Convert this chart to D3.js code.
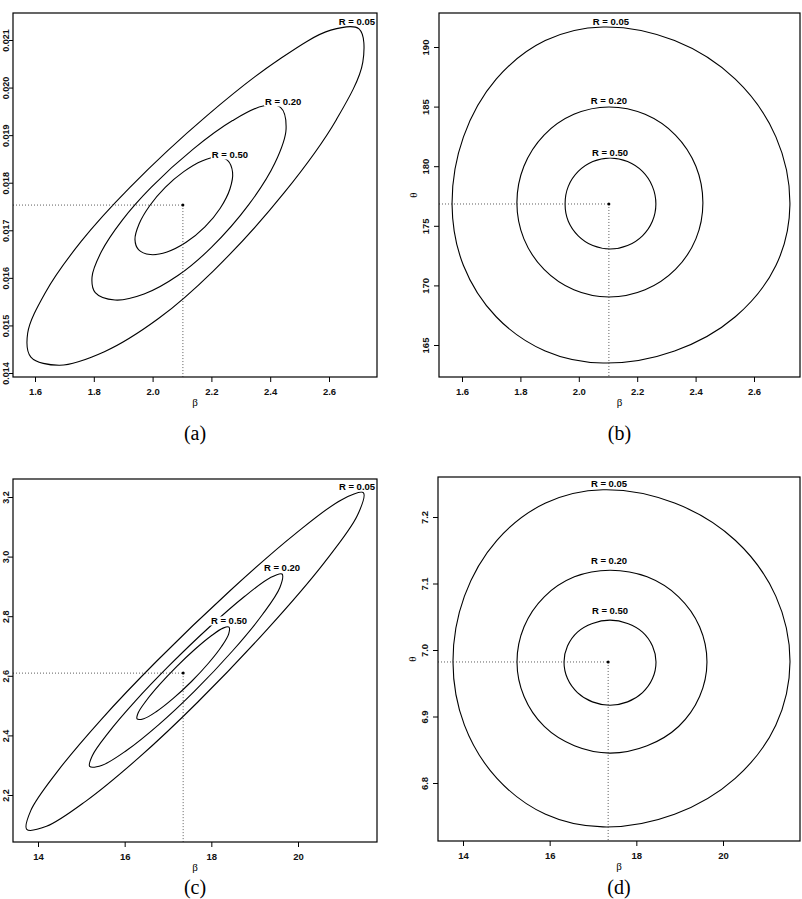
<!DOCTYPE html>
<html><head><meta charset="utf-8">
<script src="https://cdn.jsdelivr.net/npm/d3@7"></script>
<style>body{margin:0;background:#fff} svg{display:block}</style>
</head><body>
<svg id="chart" width="802" height="899"></svg>
<script>
// ---------------- DATA ----------------
const contourLevels = ["R = 0.05", "R = 0.20", "R = 0.50"];
const captions = ["(a)", "(b)", "(c)", "(d)"];
const xTicksAB = [1.6, 1.8, 2.0, 2.2, 2.4, 2.6];
const xTicksCD = [14, 16, 18, 20];
const yTicksA = [0.014, 0.015, 0.016, 0.017, 0.018, 0.019, 0.020, 0.021];
const yTicksB = [165, 170, 175, 180, 185, 190];
const yTicksC = [2.2, 2.4, 2.6, 2.8, 3.0, 3.2];
const yTicksD = [6.8, 6.9, 7.0, 7.1, 7.2];

const mleA = [2.103, 0.01753];
const mleB = [2.103, 176.83];
const mleC = [17.35, 2.609];
const mleD = [17.35, 6.982];

// panel (a)
const contourA05 = [[2.702,0.021233],[2.715,0.020536],[2.625,0.019325],[2.447,0.017785],[2.207,0.016149],[2.020,0.015145],[1.836,0.014448],[1.684,0.014164],[1.586,0.014336],[1.575,0.014835],[1.635,0.015689],[1.757,0.016766],[1.923,0.017903],[2.184,0.019405],[2.424,0.020565],[2.606,0.021207]];
const contourA20 = [[2.435,0.019583],[2.454,0.019131],[2.416,0.018413],[2.327,0.017538],[2.200,0.016640],[2.086,0.016048],[1.971,0.015659],[1.872,0.015533],[1.805,0.015688],[1.794,0.016016],[1.826,0.016553],[1.897,0.017215],[1.995,0.017903],[2.138,0.018706],[2.272,0.019306],[2.376,0.019614]];
const contourA50 = [[2.255,0.018468],[2.272,0.018220],[2.263,0.017868],[2.230,0.017464],[2.178,0.017071],[2.114,0.016747],[2.049,0.016544],[1.992,0.016490],[1.952,0.016595],[1.940,0.016809],[1.954,0.017132],[1.990,0.017516],[2.043,0.017903],[2.106,0.018233],[2.168,0.018457],[2.220,0.018539]];

// panel (b)
const contourB05 = [[2.723,176.75],[2.675,182.46],[2.536,187.30],[2.328,190.54],[2.083,191.68],[1.885,190.54],[1.717,187.30],[1.605,182.46],[1.566,176.75],[1.605,171.67],[1.717,167.37],[1.885,164.50],[2.083,163.49],[2.328,164.50],[2.536,167.37],[2.675,171.67]];
const contourB20 = [[2.425,176.91],[2.401,179.99],[2.331,182.61],[2.227,184.35],[2.103,184.97],[1.983,184.35],[1.881,182.61],[1.812,179.99],[1.788,176.91],[1.812,173.90],[1.881,171.34],[1.983,169.63],[2.103,169.03],[2.227,169.63],[2.331,171.34],[2.401,173.90]];
const contourB50 = [[2.264,176.83],[2.252,178.31],[2.218,179.56],[2.167,180.39],[2.107,180.69],[2.048,180.39],[1.998,179.56],[1.964,178.31],[1.953,176.83],[1.964,175.38],[1.998,174.16],[2.048,173.34],[2.107,173.05],[2.167,173.34],[2.218,174.16],[2.252,175.38]];

// panel (c)
const contourC05 = [[21.507,3.2145],[21.372,3.1385],[20.598,2.9783],[19.305,2.7584],[17.689,2.5121],[16.333,2.3261],[15.106,2.1796],[14.196,2.0950],[13.740,2.0850],[13.833,2.1476],[14.437,2.2769],[15.458,2.4533],[16.742,2.6497],[18.431,2.8855],[19.929,3.0756],[21.010,3.1911]];
const contourC20 = [[19.631,2.9416],[19.582,2.8963],[19.180,2.8056],[18.487,2.6832],[17.607,2.5477],[16.788,2.4362],[16.042,2.3492],[15.481,2.3000],[15.192,2.2962],[15.256,2.3327],[15.626,2.4096],[16.245,2.5151],[17.020,2.6331],[17.944,2.7621],[18.765,2.8660],[19.357,2.9290]];
const contourC50 = [[18.407,2.7636],[18.401,2.7410],[18.235,2.6983],[17.933,2.6421],[17.542,2.5809],[17.121,2.5241],[16.735,2.4802],[16.441,2.4560],[16.286,2.4552],[16.310,2.4751],[16.492,2.5154],[16.804,2.5701],[17.199,2.6308],[17.616,2.6882],[17.992,2.7335],[18.270,2.7600]];

// panel (d)
const contourD05 = [[21.546,6.982],[21.218,7.081],[20.282,7.165],[18.882,7.221],[17.231,7.241],[15.906,7.221],[14.783,7.165],[14.033,7.081],[13.769,6.982],[14.033,6.887],[14.783,6.807],[15.906,6.753],[17.231,6.734],[18.882,6.753],[20.282,6.807],[21.218,6.887]];
const contourD20 = [[19.630,6.982],[19.460,7.035],[18.975,7.080],[18.249,7.110],[17.392,7.120],[16.571,7.110],[15.875,7.080],[15.409,7.035],[15.246,6.982],[15.409,6.930],[15.875,6.885],[16.571,6.856],[17.392,6.845],[18.249,6.856],[18.975,6.885],[19.460,6.930]];
const contourD50 = [[18.454,6.982],[18.373,7.006],[18.143,7.027],[17.798,7.040],[17.392,7.045],[16.986,7.040],[16.641,7.027],[16.411,7.006],[16.331,6.982],[16.411,6.957],[16.641,6.936],[16.986,6.922],[17.392,6.917],[17.798,6.922],[18.143,6.936],[18.373,6.957]];

// label anchor positions (data units)
const labelPosA = [[2.695,0.021399],[2.444,0.019697],[2.263,0.018583]];
const labelPosB = [[2.110,192.18],[2.103,185.47],[2.107,181.11]];
const labelPosC = [[21.362,3.234],[19.631,2.962],[18.408,2.784]];
const labelPosD = [[17.369,7.250],[17.369,7.134],[17.392,7.059]];

// ---------------- LAYOUT ----------------
const panels = [
  {frame:[13,377,13,377], xDom:[1.6,2.6], xRange:[35,329], yDom:[0.014,0.021], yRange:[373,40],
   xTicks:xTicksAB, yTicks:yTicksA, xFmt:".1f", yFmt:".3f", contours:[contourA05,contourA20,contourA50],
   labels:labelPosA, mle:mleA, cap:captions[0], capY:440, yLabOff:-4, yTick:4, yFs:9, yTitle:false},
  {frame:[439,800,13,377], xDom:[1.6,2.6], xRange:[462,754], yDom:[165,190], yRange:[345,47],
   xTicks:xTicksAB, yTicks:yTicksB, xFmt:".1f", yFmt:"d", contours:[contourB05,contourB20,contourB50],
   labels:labelPosB, mle:mleB, cap:captions[1], capY:440, yLabOff:-10, yTick:5, yFs:9.5, yTitle:true},
  {frame:[13,377,479,842], xDom:[14,20], xRange:[38,298], yDom:[2.2,3.2], yRange:[795,497],
   xTicks:xTicksCD, yTicks:yTicksC, xFmt:"d", yFmt:".1f", contours:[contourC05,contourC20,contourC50],
   labels:labelPosC, mle:mleC, cap:captions[2], capY:894, yLabOff:-4, yTick:4, yFs:9, yTitle:false},
  {frame:[438,800,477,841], xDom:[14,20], xRange:[463,723], yDom:[6.8,7.2], yRange:[783,517],
   xTicks:xTicksCD, yTicks:yTicksD, xFmt:"d", yFmt:".1f", contours:[contourD05,contourD20,contourD50],
   labels:labelPosD, mle:mleD, cap:captions[3], capY:894, yLabOff:-10, yTick:5, yFs:9.5, yTitle:true}
];

const svg = d3.select("#chart");
const sans = "'Liberation Sans', Arial, Helvetica, sans-serif";
const serif = "'Liberation Serif', 'Times New Roman', serif";

panels.forEach((p, i) => {
  const [fx0, fx1, fy0, fy1] = p.frame;
  const x = d3.scaleLinear().domain(p.xDom).range(p.xRange);
  const y = d3.scaleLinear().domain(p.yDom).range(p.yRange);
  const g = svg.append("g");
  const clipId = "clip" + i;
  svg.append("clipPath").attr("id", clipId).append("rect")
    .attr("x", fx0).attr("y", fy0).attr("width", fx1 - fx0).attr("height", fy1 - fy0);
  const inner = g.append("g").attr("clip-path", `url(#${clipId})`);

  // contours
  const line = d3.line().x(d => x(d[0])).y(d => y(d[1])).curve(d3.curveCatmullRomClosed.alpha(0.5));
  p.contours.forEach(c => {
    inner.append("path").attr("d", line(c)).attr("fill", "none")
      .attr("stroke", "#000").attr("stroke-width", 1.1);
  });

  // dotted reference lines
  inner.append("line").attr("x1", fx0).attr("x2", x(p.mle[0]))
    .attr("y1", y(p.mle[1])).attr("y2", y(p.mle[1]))
    .attr("stroke", "#333").attr("stroke-width", 0.8).attr("stroke-dasharray", "1,2");
  inner.append("line").attr("x1", x(p.mle[0])).attr("x2", x(p.mle[0]))
    .attr("y1", y(p.mle[1])).attr("y2", fy1)
    .attr("stroke", "#333").attr("stroke-width", 0.8).attr("stroke-dasharray", "1,2");
  inner.append("circle").attr("cx", x(p.mle[0])).attr("cy", y(p.mle[1])).attr("r", 1.5).attr("fill", "#000");

  // contour labels
  p.labels.forEach((lp, k) => {
    const t = inner.append("text").attr("x", x(lp[0])).attr("y", y(lp[1]))
      .attr("text-anchor", "middle").attr("dominant-baseline", "central")
      .attr("font-family", sans).attr("font-weight", "bold").attr("font-size", 9.5)
      .text(contourLevels[k]);
    const bb = t.node().getBBox();
    inner.insert("rect", "text").attr("x", bb.x - 1).attr("y", bb.y + 1)
      .attr("width", bb.width + 2).attr("height", bb.height - 2).attr("fill", "#fff");
  });

  // frame
  g.append("rect").attr("x", fx0).attr("y", fy0).attr("width", fx1 - fx0).attr("height", fy1 - fy0)
    .attr("fill", "none").attr("stroke", "#000").attr("stroke-width", 1.2);

  // x axis
  const xa = g.append("g").attr("transform", `translate(0,${fy1})`)
    .call(d3.axisBottom(x).tickValues(p.xTicks).tickSize(5).tickFormat(d3.format(p.xFmt)));
  xa.select(".domain").remove();
  xa.selectAll("line").attr("stroke", "#000").attr("stroke-width", 1);
  xa.selectAll("text").attr("y", 18).attr("dy", 0).attr("font-family", sans)
    .attr("font-weight", "bold").attr("font-size", 9.5).attr("fill", "#111");

  // y axis
  const ya = g.append("g").attr("transform", `translate(${fx0},0)`)
    .call(d3.axisLeft(y).tickValues(p.yTicks).tickSize(p.yTick).tickFormat(d3.format(p.yFmt)));
  ya.select(".domain").remove();
  ya.selectAll("line").attr("stroke", "#000").attr("stroke-width", 1);
  ya.selectAll("text").attr("x", 0).attr("dy", 0).attr("text-anchor", "middle")
    .attr("transform", `translate(${p.yLabOff},0) rotate(-90)`)
    .attr("font-family", sans).attr("font-weight", "bold").attr("font-size", p.yFs).attr("fill", "#111");

  // axis titles
  g.append("text").attr("x", (fx0 + fx1) / 2).attr("y", fy1 + 29).attr("text-anchor", "middle")
    .attr("font-family", serif).attr("font-size", 11).text("β");
  if (p.yTitle) {
    g.append("text").attr("transform", `translate(${fx0 - 22},${(fy0 + fy1) / 2}) rotate(-90)`)
      .attr("text-anchor", "middle").attr("font-family", serif).attr("font-size", 11).text("θ");
  }

  // caption
  g.append("text").attr("x", (fx0 + fx1) / 2).attr("y", p.capY).attr("text-anchor", "middle")
    .attr("font-family", serif).attr("font-size", 20).text(p.cap);
});
</script>
</body></html>
